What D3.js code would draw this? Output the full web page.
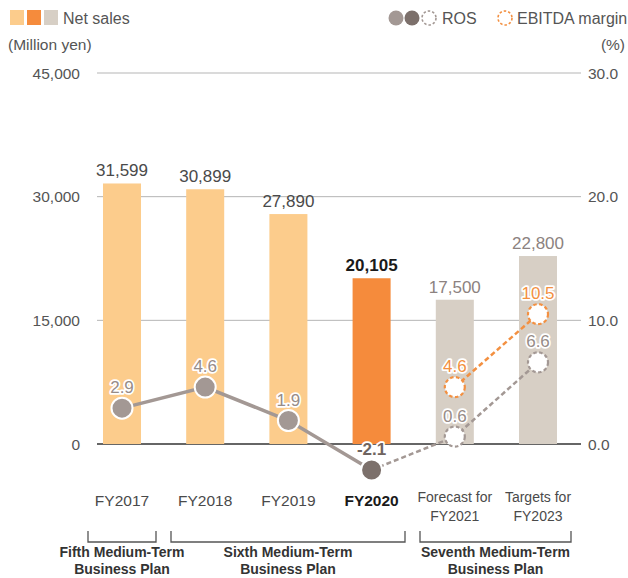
<!DOCTYPE html>
<html>
<head>
<meta charset="utf-8">
<script src="https://cdn.jsdelivr.net/npm/d3@7"></script>
<style>
  html, body { margin: 0; padding: 0; background: #fff; }
  svg text { font-family: "Liberation Sans", Arial, sans-serif; }
</style>
</head>
<body>
<svg id="chart" width="628" height="578"></svg>
<script>
// Net sales (million yen) and margins (%)
const categories = ["FY2017", "FY2018", "FY2019", "FY2020", "FY2021F", "FY2023T"];
const categoryLabels = [["FY2017"], ["FY2018"], ["FY2019"], ["FY2020"], ["Forecast for", "FY2021"], ["Targets for", "FY2023"]];
const netSales = [31599, 30899, 27890, 20105, 17500, 22800];
const barKinds = ["past", "past", "past", "current", "plan", "plan"];
const rosValues = [2.9, 4.6, 1.9, -2.1, 0.6, 6.6];
const ebitdaCats = ["FY2021F", "FY2023T"];
const ebitdaValues = [4.6, 10.5];
const leftTicks = [0, 15000, 30000, 45000];
const rightTicks = [0, 10, 20, 30];
const plans = [
  { from: 0, to: 0, lines: ["Fifth Medium-Term", "Business Plan"] },
  { from: 1, to: 3, lines: ["Sixth Medium-Term", "Business Plan"] },
  { from: 4, to: 5, lines: ["Seventh Medium-Term", "Business Plan"] }
];

const colors = { past: "#fccc8c", current: "#f58b3c", plan: "#d7cfc5" };
const rosColor = "#a39894", rosDark = "#7c706b", ebitdaColor = "#f39041";

const svg = d3.select("#chart");

const x = d3.scaleBand().domain(categories).range([80.4, 579.6])
  .paddingInner(0.543).paddingOuter(0.2715);
const y = d3.scaleLinear().domain([0, 45000]).range([444, 73]);
const y2 = d3.scaleLinear().domain([0, 30]).range([444, 73]);
const cx = c => x(c) + x.bandwidth() / 2;

// gridlines
svg.append("g").selectAll("line").data(leftTicks).join("line")
  .attr("x1", 97).attr("x2", 581)
  .attr("y1", d => y(d)).attr("y2", d => y(d))
  .attr("stroke", d => d === 0 ? "#333" : "#b5b5b5")
  .attr("stroke-width", d => d === 0 ? 1.3 : 1);

// left axis labels
svg.append("g").selectAll("text").data(leftTicks).join("text")
  .attr("x", 80).attr("y", d => y(d) + 5.5)
  .attr("text-anchor", "end").attr("font-size", 15.5).attr("fill", "#555")
  .text(d => d3.format(",")(d));

// right axis labels
svg.append("g").selectAll("text").data(rightTicks).join("text")
  .attr("x", 588).attr("y", d => y2(d) + 5.5)
  .attr("text-anchor", "start").attr("font-size", 15.5).attr("fill", "#555")
  .text(d => d.toFixed(1));

// bars
svg.append("g").selectAll("rect").data(netSales).join("rect")
  .attr("x", (d, i) => x(categories[i]))
  .attr("width", x.bandwidth())
  .attr("y", d => y(d))
  .attr("height", d => y(0) - y(d))
  .attr("fill", (d, i) => colors[barKinds[i]]);

// bar value labels
svg.append("g").selectAll("text").data(netSales).join("text")
  .attr("x", (d, i) => cx(categories[i]))
  .attr("y", d => y(d) - 7)
  .attr("text-anchor", "middle")
  .attr("font-size", 17)
  .attr("font-weight", (d, i) => barKinds[i] === "current" ? "bold" : "normal")
  .attr("fill", (d, i) => barKinds[i] === "current" ? "#1a1a1a" : barKinds[i] === "plan" ? "#8c8280" : "#4a4a4a")
  .text(d => d3.format(",")(d));

// ROS lines: actual (solid) and plan (dashed)
const line = d3.line().x(d => cx(d.c)).y(d => y2(d.v));
const rosPts = categories.map((c, i) => ({ c, v: rosValues[i] }));
svg.append("path").datum(rosPts.slice(0, 4)).attr("d", line)
  .attr("fill", "none").attr("stroke", rosColor).attr("stroke-width", 3.5);
svg.append("path").datum(rosPts.slice(3)).attr("d", line)
  .attr("fill", "none").attr("stroke", rosColor).attr("stroke-width", 2.5)
  .attr("stroke-dasharray", "5,3");

// EBITDA margin line
const ebPts = ebitdaCats.map((c, i) => ({ c, v: ebitdaValues[i] }));
svg.append("path").datum(ebPts).attr("d", line)
  .attr("fill", "none").attr("stroke", ebitdaColor).attr("stroke-width", 2.5)
  .attr("stroke-dasharray", "5,3");

// markers
const markers = svg.append("g");
rosPts.forEach((d, i) => {
  const planned = i >= 4;
  if (planned) {
    markers.append("circle").attr("cx", cx(d.c)).attr("cy", y2(d.v)).attr("r", 10)
      .attr("fill", "#fff").attr("stroke", rosColor).attr("stroke-width", 2.2)
      .attr("stroke-dasharray", "3.5,2.5");
  } else {
    markers.append("circle").attr("cx", cx(d.c)).attr("cy", y2(d.v)).attr("r", 10.5)
      .attr("fill", i === 3 ? rosDark : rosColor).attr("stroke", "#fff").attr("stroke-width", 2);
  }
});
ebPts.forEach(d => {
  markers.append("circle").attr("cx", cx(d.c)).attr("cy", y2(d.v)).attr("r", 10)
    .attr("fill", "#fff").attr("stroke", ebitdaColor).attr("stroke-width", 2.2)
    .attr("stroke-dasharray", "3.5,2.5");
});

// point labels with white halo
function pointLabel(px, py, txt, fill, bold) {
  svg.append("text").attr("x", px).attr("y", py)
    .attr("text-anchor", "middle").attr("font-size", 17)
    .attr("font-weight", bold ? "bold" : "normal")
    .attr("fill", fill).attr("stroke", "#fff").attr("stroke-width", 3.5)
    .attr("paint-order", "stroke").attr("stroke-linejoin", "round")
    .text(txt);
}
rosPts.forEach((d, i) => {
  pointLabel(cx(d.c), y2(d.v) - 15, d.v.toFixed(1), i === 3 ? "#6f6460" : "#978c88", i === 3);
});
ebPts.forEach(d => pointLabel(cx(d.c), y2(d.v) - 15, d.v.toFixed(1), ebitdaColor, false));

// category labels
categoryLabels.forEach((lines, i) => {
  const t = svg.append("text").attr("x", cx(categories[i])).attr("y", 506)
    .attr("text-anchor", "middle").attr("fill", i === 3 ? "#1a1a1a" : "#4a4a4a")
    .attr("font-weight", i === 3 ? "bold" : "normal");
  if (lines.length === 1) {
    t.attr("font-size", 15.5).text(lines[0]);
  } else {
    t.attr("font-size", 14).attr("y", 502)
      .style("font-family", "'Liberation Sans Narrow', 'Liberation Sans', sans-serif");
    lines.forEach((l, k) => t.append("tspan").attr("x", cx(categories[i])).attr("dy", k ? 19 : 0).text(l));
  }
});

// plan brackets
const bracketEdges = [[88, 156], [171, 405], [420, 571]];
plans.forEach((p, k) => {
  const [a, b] = bracketEdges[k];
  svg.append("path")
    .attr("d", `M${a},531V542H${b}V531`)
    .attr("fill", "none").attr("stroke", "#555").attr("stroke-width", 1.3);
  const t = svg.append("text").attr("x", (a + b) / 2).attr("y", 557)
    .attr("text-anchor", "middle").attr("font-size", 14).attr("font-weight", "bold").attr("fill", "#333");
  p.lines.forEach((l, j) => t.append("tspan").attr("x", (a + b) / 2).attr("dy", j ? 17 : 0).text(l));
});

// legend: net sales
const leg = svg.append("g");
["past", "current", "plan"].forEach((k, i) => {
  leg.append("rect").attr("x", 10 + i * 17).attr("y", 10).attr("width", 14).attr("height", 15).attr("fill", colors[k]);
});
leg.append("text").attr("x", 63).attr("y", 24).attr("font-size", 16).attr("fill", "#555").text("Net sales");
leg.append("text").attr("x", 8).attr("y", 50).attr("font-size", 15.5).attr("fill", "#555").text("(Million yen)");

// legend: ROS / EBITDA
leg.append("circle").attr("cx", 396).attr("cy", 18).attr("r", 7.5).attr("fill", rosColor);
leg.append("circle").attr("cx", 412).attr("cy", 18).attr("r", 7.5).attr("fill", rosDark);
leg.append("circle").attr("cx", 429).attr("cy", 18).attr("r", 7).attr("fill", "#fff")
  .attr("stroke", rosColor).attr("stroke-width", 1.6).attr("stroke-dasharray", "2.5,2");
leg.append("text").attr("x", 442).attr("y", 24).attr("font-size", 16).attr("fill", "#555").text("ROS");
leg.append("circle").attr("cx", 505).attr("cy", 18).attr("r", 7).attr("fill", "#fff")
  .attr("stroke", ebitdaColor).attr("stroke-width", 1.6).attr("stroke-dasharray", "2.5,2");
leg.append("text").attr("x", 517).attr("y", 24).attr("font-size", 16).attr("fill", "#555").text("EBITDA margin");
leg.append("text").attr("x", 625).attr("y", 50).attr("text-anchor", "end").attr("font-size", 15.5).attr("fill", "#555").text("(%)");
</script>
</body>
</html>
